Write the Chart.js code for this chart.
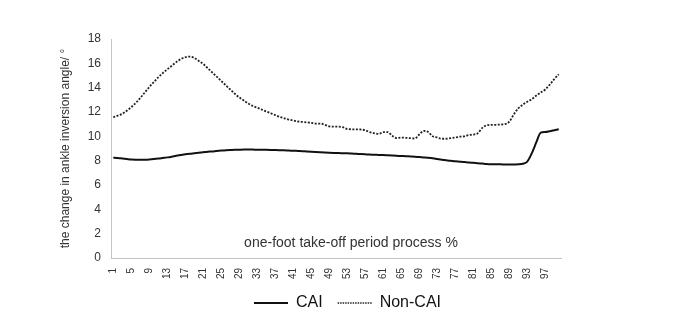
<!DOCTYPE html>
<html>
<head>
<meta charset="utf-8">
<script src="https://cdn.jsdelivr.net/npm/chart.js@4/dist/chart.umd.min.js"></script>
<style>
html,body{margin:0;padding:0;background:#fff;}
canvas{display:block;}
</style>
</head>
<body>
<canvas id="c" width="683" height="325"></canvas>
<script>
// ---- data ----
const categories = [];
for (let i = 1; i <= 100; i++) categories.push(String(i));

const caiValues = [
 8.25,8.22,8.18,8.14,8.10,8.08,8.07,8.08,8.10,8.13,
 8.17,8.22,8.27,8.33,8.40,8.46,8.52,8.57,8.61,8.65,
 8.69,8.73,8.76,8.80,8.83,8.85,8.87,8.89,8.90,8.91,
 8.91,8.91,8.90,8.90,8.89,8.88,8.87,8.86,8.85,8.83,
 8.82,8.80,8.78,8.76,8.74,8.72,8.70,8.68,8.66,8.64,
 8.62,8.61,8.60,8.58,8.56,8.54,8.52,8.50,8.49,8.47,
 8.46,8.44,8.42,8.40,8.38,8.37,8.35,8.33,8.30,8.27,
 8.24,8.20,8.14,8.08,8.03,7.99,7.95,7.92,7.89,7.85,
 7.82,7.79,7.76,7.73,7.71,7.70,7.70,7.69,7.68,7.68,
 7.70,7.75,7.92,8.60,9.50,10.30,10.35,10.42,10.50,10.58
];

const nonCaiValues = [
 11.57,11.70,11.85,12.10,12.40,12.75,13.15,13.60,14.05,14.45,
 14.85,15.20,15.50,15.80,16.10,16.35,16.50,16.55,16.45,16.20,
 15.95,15.60,15.25,14.90,14.55,14.20,13.85,13.50,13.20,12.95,
 12.70,12.50,12.35,12.20,12.05,11.90,11.75,11.60,11.48,11.38,
 11.30,11.22,11.18,11.15,11.10,11.05,11.05,10.95,10.82,10.80,
 10.80,10.75,10.60,10.58,10.57,10.56,10.50,10.35,10.25,10.20,
 10.35,10.35,10.05,9.85,9.90,9.88,9.85,9.82,10.15,10.45,
 10.35,10.00,9.92,9.80,9.80,9.85,9.90,9.97,10.00,10.10,
 10.15,10.25,10.70,10.90,10.95,10.95,10.97,11.00,11.20,11.80,
 12.30,12.60,12.85,13.05,13.35,13.60,13.85,14.25,14.70,15.10
];

const seriesNames = ['CAI', 'Non-CAI'];
const yTicks = [0, 2, 4, 6, 8, 10, 12, 14, 16, 18];
const yTitle = 'the change in ankle inversion angle/ \u00b0';
const xTitle = 'one-foot take-off period process %';

const FONT = '"Liberation Sans", Arial, Helvetica, sans-serif';
const TEXT = '#333333';
const AXIS = '#c4c4c4';

const innerTitle = {
  id: 'innerTitle',
  afterDraw(chart) {
    const {ctx, chartArea} = chart;
    ctx.save();
    ctx.font = '14px ' + FONT;
    ctx.fillStyle = TEXT;
    ctx.textAlign = 'center';
    ctx.textBaseline = 'middle';
    ctx.fillText(xTitle, chartArea.left + 240, chartArea.bottom - 15);
    ctx.restore();
  }
};

new Chart(document.getElementById('c'), {
  type: 'line',
  data: {
    labels: categories,
    datasets: [
      {
        label: seriesNames[0],
        data: caiValues,
        borderColor: '#111111',
        backgroundColor: '#111111',
        borderWidth: 2,
        pointRadius: 0,
        cubicInterpolationMode: 'monotone',
        fill: false
      },
      {
        label: seriesNames[1],
        data: nonCaiValues,
        borderColor: '#222222',
        backgroundColor: '#222222',
        borderWidth: 1.8,
        borderDash: [2, 1.5],
        pointRadius: 0,
        cubicInterpolationMode: 'monotone',
        fill: false
      }
    ]
  },
  options: {
    responsive: false,
    animation: false,
    devicePixelRatio: 1,
    layout: { padding: { left: 12, right: 0, top: 39, bottom: 4 } },
    plugins: {
      tooltip: { enabled: false },
      legend: {
        position: 'bottom',
        labels: {
          usePointStyle: true,
          pointStyle: 'line',
          pointStyleWidth: 34,
          padding: 15,
          color: '#111111',
          font: { family: FONT, size: 16 },
          generateLabels(chart) {
            const items = Chart.defaults.plugins.legend.labels.generateLabels(chart);
            return items.map((it, i) => {
              const ds = chart.data.datasets[it.datasetIndex];
              it.lineDash = ds.borderDash ? [1.5, 1] : [];
              it.lineWidth = ds.borderDash ? 1.3 : 2;
              it.strokeStyle = ds.borderColor;
              return it;
            });
          }
        }
      }
    },
    scales: {
      x: {
        offset: true,
        grid: { display: false, drawTicks: false },
        border: { display: true, color: AXIS, width: 1 },
        ticks: {
          autoSkip: false,
          minRotation: 90,
          maxRotation: 90,
          padding: 10,
          color: TEXT,
          font: { family: FONT, size: 10 },
          callback: function (v, i) { return i % 4 === 0 ? categories[i] : ''; }
        },
        afterFit(s) { s.height = 22; }
      },
      y: {
        min: 0,
        max: 18,
        afterBuildTicks(s) { s.ticks = yTicks.map(v => ({ value: v })); },
        grid: { display: false, drawTicks: false },
        border: { display: true, color: AXIS, width: 1 },
        ticks: {
          padding: 10,
          color: TEXT,
          font: { family: FONT, size: 12 }
        },
        title: {
          display: true,
          text: yTitle,
          color: TEXT,
          font: { family: FONT, size: 12 },
          padding: { top: 46, bottom: 0 }
        },
        afterFit(s) { s.width = 99; }
      },
      rightPad: {
        type: 'linear',
        position: 'right',
        display: true,
        grid: { display: false, drawTicks: false },
        border: { display: false },
        ticks: { display: false },
        afterFit(s) { s.width = 122; }
      }
    }
  },
  plugins: [innerTitle]
});
</script>
</body>
</html>
